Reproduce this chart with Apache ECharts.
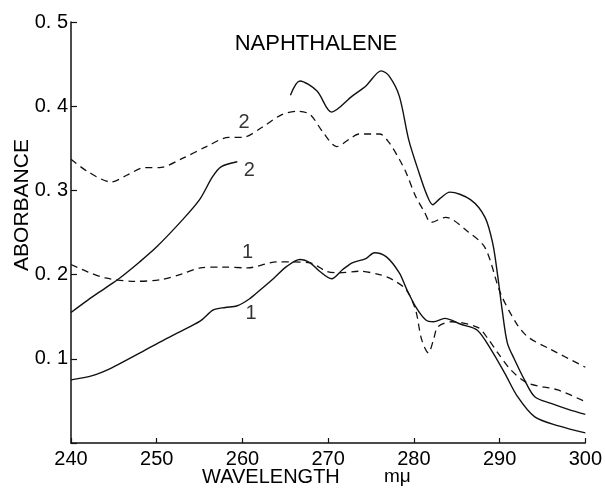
<!DOCTYPE html>
<html><head><meta charset="utf-8">
<script src="https://cdn.jsdelivr.net/npm/echarts@6/dist/echarts.min.js"></script>
<style>html,body{margin:0;padding:0;background:#fff}#c{width:605px;height:491px}</style>
</head><body><div id="c"></div>
<script>
// Axis ticks
const xMin = 240, xMax = 300, xStep = 10;
const yMin = 0, yMax = 0.5, yStep = 0.1;

// Curve 2 (solid) — null marks the faded part of the trace
const wlSolid2 = [240, 242, 244, 245.7, 248, 250, 253, 255, 256.5, 257.5, 259.4, 262, 265.6, 266.7, 268.7, 270.4, 272.8, 274.4, 276.2, 277.1, 278.3, 279.4, 280.6, 281.5, 282.2, 283, 284.2, 286.6, 288.3, 289.2, 289.8, 290.3, 290.9, 291.7, 292.9, 294.1, 296, 298, 300];
const abSolid2 = [0.155, 0.170, 0.184, 0.196, 0.215, 0.233, 0.265, 0.289, 0.316, 0.328, 0.334, null, 0.413, 0.430, 0.418, 0.393, 0.412, 0.424, 0.442, 0.436, 0.412, 0.360, 0.321, 0.295, 0.283, 0.290, 0.298, 0.289, 0.268, 0.237, 0.197, 0.158, 0.119, 0.100, 0.075, 0.055, 0.047, 0.040, 0.034];

// Curve 2 (dashed)
const wlDash2 = [240, 242, 244.7, 246.5, 248.6, 250.3, 253, 255.8, 258.4, 260.0, 262.3, 264.6, 266.5, 267.9, 269.4, 271.0, 272.5, 273.6, 276.0, 277.1, 278.3, 279.1, 280.2, 281.2, 282.0, 283.7, 286.3, 288.3, 290.1, 291.9, 293.3, 296.0, 300];
const abDash2 = [0.337, 0.322, 0.310, 0.318, 0.327, 0.327, 0.338, 0.352, 0.363, 0.363, 0.375, 0.390, 0.394, 0.390, 0.369, 0.352, 0.361, 0.367, 0.367, 0.357, 0.337, 0.321, 0.293, 0.275, 0.262, 0.268, 0.251, 0.232, 0.178, 0.143, 0.126, 0.111, 0.090];

// Curve 1 (dashed)
const wlDash1 = [240, 242, 244, 247.4, 250.5, 253, 255.1, 257.5, 260.6, 264.0, 266, 267.9, 269.8, 271.3, 273.6, 276.0, 277.5, 279.1, 280.2, 280.9, 281.7, 282.3, 282.8, 284.4, 287.5, 288.7, 289.8, 291.3, 293.3, 296.8, 300];
const abDash1 = [0.212, 0.203, 0.196, 0.192, 0.194, 0.201, 0.208, 0.209, 0.208, 0.215, 0.215, 0.214, 0.204, 0.202, 0.204, 0.200, 0.194, 0.182, 0.158, 0.123, 0.107, 0.123, 0.138, 0.144, 0.137, 0.123, 0.107, 0.087, 0.071, 0.063, 0.049];

// Curve 1 (solid)
const wlSolid1 = [240, 242.5, 244.7, 247.5, 250.2, 252.5, 255.1, 256.6, 258, 259.4, 260.8, 262.1, 263.7, 265.2, 266.7, 267.9, 269.0, 270.4, 271.7, 272.8, 274.4, 275.4, 276.8, 278.3, 279.1, 280.2, 281.4, 282.3, 283.6, 285.5, 287.4, 289.0, 290.6, 292.1, 294.1, 297, 300];
const abSolid1 = [0.075, 0.080, 0.089, 0.104, 0.119, 0.131, 0.145, 0.158, 0.161, 0.163, 0.171, 0.182, 0.196, 0.210, 0.218, 0.214, 0.204, 0.195, 0.206, 0.214, 0.219, 0.226, 0.221, 0.202, 0.184, 0.162, 0.146, 0.144, 0.148, 0.141, 0.134, 0.111, 0.083, 0.055, 0.031, 0.020, 0.012];

// Curve number labels
const curveLabelText = ['2', '2', '1', '1'];
const curveLabelX = [260.2, 260.8, 260.6, 261.0];
const curveLabelY = [0.381, 0.324, 0.226, 0.154];

const pair = (xs, ys) => xs.map((x, i) => [x, ys[i]]);
const INK = '#111';
const NARROW = '"Liberation Sans Narrow", "Liberation Sans", sans-serif';
const SANS = '"Liberation Sans", Arial, sans-serif';

const chart = echarts.init(document.getElementById('c'), null, {renderer: 'canvas'});
const solid = {color: INK, width: 1.4, type: 'solid'};
const dashed = {color: INK, width: 1.3, type: [7, 5]};

chart.setOption({
  animation: false,
  backgroundColor: '#fff',
  grid: {left: 71, right: 17, top: 22, bottom: 48, containLabel: false},
  xAxis: {
    type: 'value', min: xMin, max: xMax, interval: xStep,
    axisLine: {show: true, lineStyle: {color: INK, width: 1.5}},
    axisTick: {show: true, inside: true, length: 5, lineStyle: {color: INK, width: 1.2}},
    axisLabel: {color: '#000', fontFamily: NARROW, fontSize: 20, margin: 6},
    splitLine: {show: false}
  },
  yAxis: {
    type: 'value', min: yMin, max: yMax, interval: yStep,
    axisLine: {show: true, lineStyle: {color: INK, width: 1.5}},
    axisTick: {show: true, inside: true, length: 6, lineStyle: {color: INK, width: 1.2}},
    axisLabel: {
      color: '#000', fontFamily: NARROW, fontSize: 20, margin: 3,
      formatter: v => v === 0 ? '' : v.toFixed(1).replace('.', '. ')
    },
    splitLine: {show: false}
  },
  series: [
    {type: 'line', data: pair(wlSolid2, abSolid2), showSymbol: false, smooth: 0.3, connectNulls: false, lineStyle: solid, z: 3},
    {type: 'line', data: pair(wlDash2, abDash2), showSymbol: false, smooth: 0.3, lineStyle: dashed, z: 2},
    {type: 'line', data: pair(wlDash1, abDash1), showSymbol: false, smooth: 0.3, lineStyle: dashed, z: 2},
    {type: 'line', data: pair(wlSolid1, abSolid1), showSymbol: false, smooth: 0.3, lineStyle: solid, z: 3},
    {
      type: 'scatter', symbolSize: 0, z: 5,
      data: curveLabelX.map((x, i) => ({value: [x, curveLabelY[i]], name: curveLabelText[i]})),
      label: {show: true, position: 'inside', formatter: p => p.name, color: '#000',
        fontFamily: NARROW, fontSize: 20}
    }
  ],
  graphic: [
    {type: 'text', x: 316, y: 43.5,
      style: {text: 'NAPHTHALENE', fill: '#000', font: '22px ' + SANS, textAlign: 'center', textVerticalAlign: 'middle'}},
    {type: 'text', x: 22, y: 205, rotation: Math.PI / 2,
      style: {text: 'ABORBANCE', fill: '#000', font: '21px ' + SANS, textAlign: 'center', textVerticalAlign: 'middle'}},
    {type: 'text', x: 202, y: 477,
      style: {text: 'WAVELENGTH', fill: '#000', font: '20px ' + SANS, textAlign: 'left', textVerticalAlign: 'middle'}},
    {type: 'text', x: 384, y: 477,
      style: {text: 'mμ', fill: '#000', font: '19px ' + SANS, textAlign: 'left', textVerticalAlign: 'middle'}}
  ]
});
</script>
</body></html>
